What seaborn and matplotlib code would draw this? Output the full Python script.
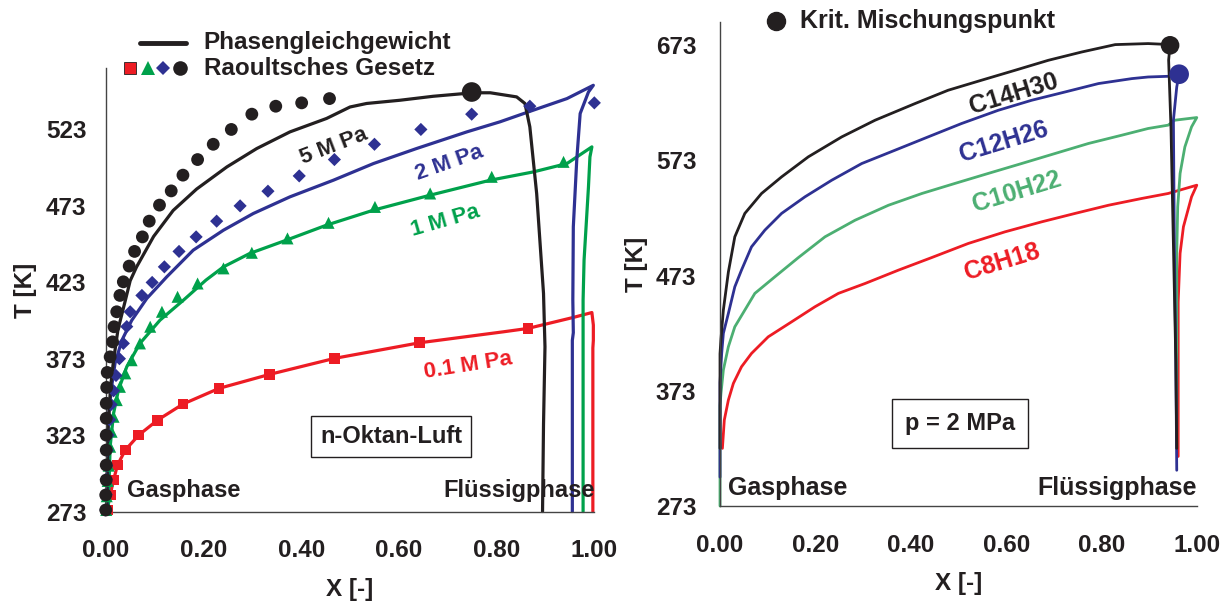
import numpy as np
import pandas as pd
import matplotlib
matplotlib.use("Agg")
import matplotlib.pyplot as plt
import seaborn as sns
from matplotlib.lines import Line2D

# ---------------- data: left panel (n-Oktan-Luft) ----------------
# phase equilibrium lines
p5_x = [0.002, 0.003, 0.005, 0.010, 0.016, 0.025, 0.040, 0.050, 0.063, 0.098, 0.138, 0.186, 0.248, 0.309,
        0.377, 0.452, 0.500, 0.534, 0.602, 0.670, 0.752, 0.787, 0.841, 0.858, 0.868, 0.882, 0.896, 0.899,
        0.896, 0.894]
p5_T = [273, 300, 330, 355, 372, 392, 411, 424, 433, 453, 470, 484, 498.5, 510.5, 521.4, 530.2, 537.7, 540,
        542.1, 544.7, 547, 547, 544.3, 540, 524.7, 481, 415.7, 380.8, 330, 273]

p2_x = [0.003, 0.005, 0.012, 0.019, 0.033, 0.053, 0.084, 0.125, 0.179, 0.241, 0.302, 0.377, 0.466, 0.548,
        0.636, 0.739, 0.807, 0.875, 0.944, 0.998, 0.988, 0.971, 0.964, 0.957, 0.956, 0.957, 0.955, 0.955]
p2_T = [273, 333, 354.6, 370, 385, 398, 412.4, 426.6, 444, 457.1, 468, 478.9, 489.8, 500.7, 510.5, 521.4,
        528, 535.6, 543.2, 551.9, 547.5, 533.4, 503, 459.3, 411.3, 390, 385, 273]

p1_x = [0.005, 0.009, 0.016, 0.026, 0.043, 0.070, 0.111, 0.159, 0.205, 0.241, 0.295, 0.370, 0.452, 0.548,
        0.664, 0.787, 0.875, 0.944, 0.995, 0.991, 0.988, 0.979, 0.977, 0.977]
p1_T = [273, 315.4, 337.2, 352.5, 367.7, 383, 398.2, 411.3, 424.4, 433.1, 441.9, 450.6, 460.4, 470.2, 480,
        489.8, 495.2, 500.7, 511.6, 505, 485.4, 437.5, 411.3, 273]

p01_x = [0.003, 0.009, 0.016, 0.024, 0.040, 0.0675, 0.106, 0.158, 0.232, 0.335, 0.468, 0.642, 0.814, 0.864,
         0.957, 0.995, 0.998, 0.998, 0.997, 0.997]
p01_T = [274, 283.8, 293.6, 303.4, 313.2, 323, 332.8, 343.3, 353.6, 362.7, 373.2, 383.4, 390.6, 392.8, 400,
         403.2, 395, 385, 380, 273]

# Raoult's law points
r5_x = [0.000, 0.000, 0.001, 0.001, 0.001, 0.001, 0.001, 0.001, 0.002, 0.003, 0.009, 0.014, 0.017, 0.0225,
        0.029, 0.036, 0.048, 0.059, 0.075, 0.089, 0.110, 0.134, 0.158, 0.188, 0.220, 0.257, 0.299, 0.348,
        0.401, 0.458]
r5_T = [274, 283.8, 293.6, 303.4, 313.2, 323, 334, 343.8, 354.2, 364, 374.2, 384, 393.9, 403.7, 414.4,
        423.3, 433.6, 443.2, 452.7, 463, 473.5, 482.8, 493.1, 503.3, 513.3, 523, 533, 538.2, 540.4, 543.2]

r2_x = [0.000, 0.001, 0.001, 0.002, 0.003, 0.005, 0.008, 0.011, 0.016, 0.021, 0.028, 0.036, 0.043, 0.050,
        0.074, 0.095, 0.120, 0.150, 0.185, 0.227, 0.275, 0.332, 0.396, 0.468, 0.550, 0.645, 0.749, 0.868,
        1.000]
r2_T = [274, 284, 294, 303, 313, 323, 333, 343, 352, 362, 373, 383, 394, 403.7, 414.4, 422.9, 433.1, 443.2,
        452.7, 463, 473, 482.6, 492.6, 503.3, 513.3, 523, 533, 538.2, 540.4]

r1_x = [0.001, 0.002, 0.004, 0.006, 0.009, 0.012, 0.016, 0.0225, 0.029, 0.040, 0.053, 0.070, 0.091, 0.115,
        0.147, 0.188, 0.241, 0.299, 0.372, 0.456, 0.551, 0.664, 0.790, 0.937]
r1_T = [274, 283, 293, 303, 315.4, 325.2, 335, 345.9, 354.6, 363.4, 372, 383, 393.9, 403.7, 413.5, 422.2,
        432.1, 442.3, 451.7, 461.9, 472.3, 481.1, 492, 501.8]

r01_x = [0.003, 0.009, 0.016, 0.024, 0.040, 0.0675, 0.106, 0.158, 0.232, 0.335, 0.468, 0.642, 0.864]
r01_T = [274, 283.8, 293.6, 303.4, 313.2, 323, 332.8, 343.3, 353.6, 362.7, 373.2, 383.4, 392.8]

crit_left_x = [0.749]
crit_left_T = [547.5]

left_yticks = [273, 323, 373, 423, 473, 523]

# ---------------- data: right panel (p = 2 MPa) ----------------
c14_x = [0.000, 0.000, 0.002, 0.007, 0.0175, 0.031, 0.052, 0.087, 0.129, 0.185, 0.255, 0.325, 0.409, 0.478,
         0.548, 0.618, 0.688, 0.758, 0.828, 0.897, 0.929, 0.943, 0.940, 0.945, 0.950, 0.955, 0.957]
c14_T = [323, 405, 418, 443, 476, 506.6, 526.9, 544.2, 558.6, 576, 593.3, 607.8, 622.3, 633.8, 642.5,
         651.1, 659.8, 667, 673.4, 674.3, 673.7, 672.8, 660, 600, 500, 400, 323]

c12_x = [0.000, 0.000, 0.0035, 0.007, 0.0175, 0.031, 0.045, 0.066, 0.094, 0.129, 0.178, 0.234, 0.297, 0.367,
         0.436, 0.506, 0.583, 0.653, 0.723, 0.793, 0.863, 0.897, 0.939, 0.962, 0.957, 0.950, 0.952, 0.955,
         0.957]
c12_T = [298, 380, 405.4, 422.8, 440.1, 463.2, 477.7, 497.9, 512.4, 526.9, 541.3, 555.7, 570.2, 581.8,
         593.3, 604.9, 616.4, 625.1, 632.3, 639.6, 643.9, 645.3, 645.9, 647.7, 636.7, 607.8, 500, 400, 304]

c10_x = [0.000, 0.000, 0.002, 0.007, 0.0175, 0.031, 0.052, 0.073, 0.115, 0.164, 0.220, 0.283, 0.353,
         0.423, 0.492, 0.562, 0.632, 0.702, 0.772, 0.842, 0.897, 0.939, 0.953, 0.999, 0.988, 0.974, 0.964,
         0.959, 0.957, 0.957]
c10_T = [273, 360, 370.6, 391, 411.2, 428.5, 443, 457.5, 471.9, 488.5, 506.6, 521, 534, 544.2,
         552.9, 561.6, 570.2, 578.9, 587.6, 594.8, 600.6, 603.5, 607.8, 610.1, 602, 584.6, 561.6, 532.6,
         492.2, 323]

c8_x = [0.005, 0.009, 0.0175, 0.028, 0.045, 0.066, 0.101, 0.150, 0.199, 0.248, 0.304, 0.374, 0.443, 0.520,
        0.597, 0.674, 0.744, 0.814, 0.884, 0.939, 0.999, 0.988, 0.971, 0.964, 0.960, 0.960]
c8_T = [323, 347.6, 364.9, 379.4, 393.8, 405.4, 419.8, 432.8, 445.9, 457.5, 466.1, 477.7, 488.5, 500.8,
        510.9, 519.6, 526.9, 534, 539.9, 544.2, 551.4, 541.3, 515.3, 492.2, 450, 316]

crit_right_x = [0.943, 0.962]
crit_right_T = [672.8, 647.7]

right_yticks = [273, 373, 473, 573, 673]
xticks = [0.0, 0.2, 0.4, 0.6, 0.8, 1.0]
xticklabels = ["0.00", "0.20", "0.40", "0.60", "0.80", "1.00"]

# ---------------- style ----------------
BLACK = "#231F20"
RED = "#ED1C24"
GREEN_L = "#00A14B"
GREEN_R = "#4CAF72"
BLUE = "#2E3192"
AXC = "#444444"

sns.set_style("white")
plt.rcParams["font.family"] = ["Liberation Sans", "DejaVu Sans"]
plt.rcParams["font.weight"] = "bold"
plt.rcParams["axes.labelweight"] = "bold"

fig = plt.figure(figsize=(12.31, 6.03), dpi=100)
ax1 = fig.add_axes([0.0859, 0.1517, 0.3969, 0.735])
ax2 = fig.add_axes([0.5849, 0.1609, 0.3877, 0.802])


def draw_line(ax, x, y, color, lw):
    df = pd.DataFrame({"X": x, "T": y})
    sns.lineplot(data=df, x="X", y="T", sort=False, estimator=None, color=color,
                 lw=lw, ax=ax, clip_on=False, zorder=2)


def draw_pts(ax, x, y, color, marker, s):
    df = pd.DataFrame({"X": x, "T": y})
    sns.scatterplot(data=df, x="X", y="T", color=color, marker=marker, s=s,
                    linewidth=0, edgecolor="none", ax=ax, clip_on=False, zorder=3)


# left panel
draw_line(ax1, p01_x, p01_T, RED, 2.3)
draw_line(ax1, p1_x, p1_T, GREEN_L, 2.3)
draw_line(ax1, p2_x, p2_T, BLUE, 2.3)
draw_line(ax1, p5_x, p5_T, BLACK, 2.3)
draw_pts(ax1, r01_x, r01_T, RED, "s", 60)
draw_pts(ax1, r1_x, r1_T, GREEN_L, "^", 75)
draw_pts(ax1, r2_x, r2_T, BLUE, "D", 45)
draw_pts(ax1, r5_x, r5_T, BLACK, "o", 85)
draw_pts(ax1, crit_left_x, crit_left_T, BLACK, "o", 200)

# right panel
draw_line(ax2, c8_x, c8_T, RED, 2.0)
draw_line(ax2, c10_x, c10_T, GREEN_R, 2.0)
draw_line(ax2, c12_x, c12_T, BLUE, 2.0)
draw_line(ax2, c14_x, c14_T, BLACK, 2.0)
draw_pts(ax2, crit_right_x[:1], crit_right_T[:1], BLACK, "o", 180)
draw_pts(ax2, crit_right_x[1:], crit_right_T[1:], BLUE, "o", 200)

# axes formatting
for ax, yt, ylim, ypad in ((ax1, left_yticks, (273, 563), 7), (ax2, right_yticks, (273, 692.7), 10)):
    ax.set_xlim(0, 1.0)
    ax.set_ylim(*ylim)
    ax.set_xticks(xticks)
    ax.set_xticklabels(xticklabels)
    ax.set_yticks(yt)
    ax.set_yticklabels([str(v) for v in yt])
    for s in ("top", "right"):
        ax.spines[s].set_visible(False)
    for s in ("left", "bottom"):
        ax.spines[s].set_color(AXC)
        ax.spines[s].set_linewidth(1.0)
    ax.tick_params(axis="both", direction="out", length=7, width=1, color=AXC,
                   labelsize=17.5, labelcolor=BLACK)
    ax.tick_params(axis="x", pad=13)
    ax.tick_params(axis="y", pad=ypad)
    ax.set_xlabel("X [-]", fontsize=17.5, color=BLACK, labelpad=11)
    ax.set_ylabel("T [K]", fontsize=17.5, color=BLACK, labelpad=6)
    ax.set_facecolor("white")

# curve labels - left
lab_kw = dict(fontweight="bold", ha="center", va="center", rotation_mode="anchor")
ax1.text(0.467, 512, "5 M Pa", color=BLACK, rotation=21, fontsize=16, **lab_kw)
ax1.text(0.703, 500.7, "2 M Pa", color=BLUE, rotation=19.5, fontsize=16, **lab_kw)
ax1.text(0.696, 463, "1 M Pa", color=GREEN_L, rotation=16, fontsize=16, **lab_kw)
ax1.text(0.742, 368.2, "0.1 M Pa", color=RED, rotation=9, fontsize=16, **lab_kw)

# curve labels - right
ax2.text(0.6145, 631, "C14H30", color=BLACK, rotation=17, fontsize=18, **lab_kw)
ax2.text(0.594, 589, "C12H26", color=BLUE, rotation=17, fontsize=18, **lab_kw)
ax2.text(0.622, 545.6, "C10H22", color=GREEN_R, rotation=17, fontsize=18, **lab_kw)
ax2.text(0.592, 484.9, "C8H18", color=RED, rotation=17, fontsize=18, **lab_kw)

# boxes
ax1.text(0.584, 322.2, "n-Oktan-Luft", fontsize=17, color=BLACK, ha="center", va="center",
         bbox=dict(boxstyle="square,pad=0.38", fc="white", ec=BLACK, lw=1))
ax2.text(0.502, 345, "p = 2 MPa", fontsize=17, color=BLACK, ha="center", va="center",
         bbox=dict(boxstyle="square,pad=0.55", fc="white", ec=BLACK, lw=1))

# phase labels
ax1.text(0.043, 282.3, "Gasphase", fontsize=17, color=BLACK, ha="left", va="baseline")
ax1.text(1.0, 282.3, "Flüssigphase", fontsize=17, color=BLACK, ha="right", va="baseline")
ax2.text(0.0175, 282.5, "Gasphase", fontsize=18, color=BLACK, ha="left", va="baseline")
ax2.text(0.999, 282.5, "Flüssigphase", fontsize=18, color=BLACK, ha="right", va="baseline")

# legend - left
ax1.add_line(Line2D([0.0702, 0.1643], [1.0578, 1.0578], transform=ax1.transAxes, color=BLACK,
                    lw=3.5, clip_on=False))
ax1.text(0.2004, 1.0429, "Phasengleichgewicht", transform=ax1.transAxes, fontsize=17.5,
         color=BLACK, ha="left", va="baseline")
for xm, mk, col, ms in ((0.0505, "s", RED, 9), (0.0870, "^", GREEN_L, 10),
                        (0.1177, "D", BLUE, 7.5), (0.1517, "o", BLACK, 10.5)):
    ax1.add_line(Line2D([xm], [1.0], transform=ax1.transAxes, marker=mk, color=col,
                        markersize=ms, markeredgewidth=0.6 if mk == "s" else 0,
                        markeredgecolor=BLACK if mk == "s" else col, linestyle="none", clip_on=False))
ax1.text(0.2004, 0.9849, "Raoultsches Gesetz", transform=ax1.transAxes, fontsize=17.5,
         color=BLACK, ha="left", va="baseline")

# legend - right
ax2.add_line(Line2D([0.1173], [1.0033], transform=ax2.transAxes, marker="o", color=BLACK,
                    markersize=13, linestyle="none", clip_on=False))
ax2.text(0.1676, 0.9876, "Krit. Mischungspunkt", transform=ax2.transAxes, fontsize=18,
         color=BLACK, ha="left", va="baseline")

fig.savefig("out.png", dpi=100, facecolor="white")
